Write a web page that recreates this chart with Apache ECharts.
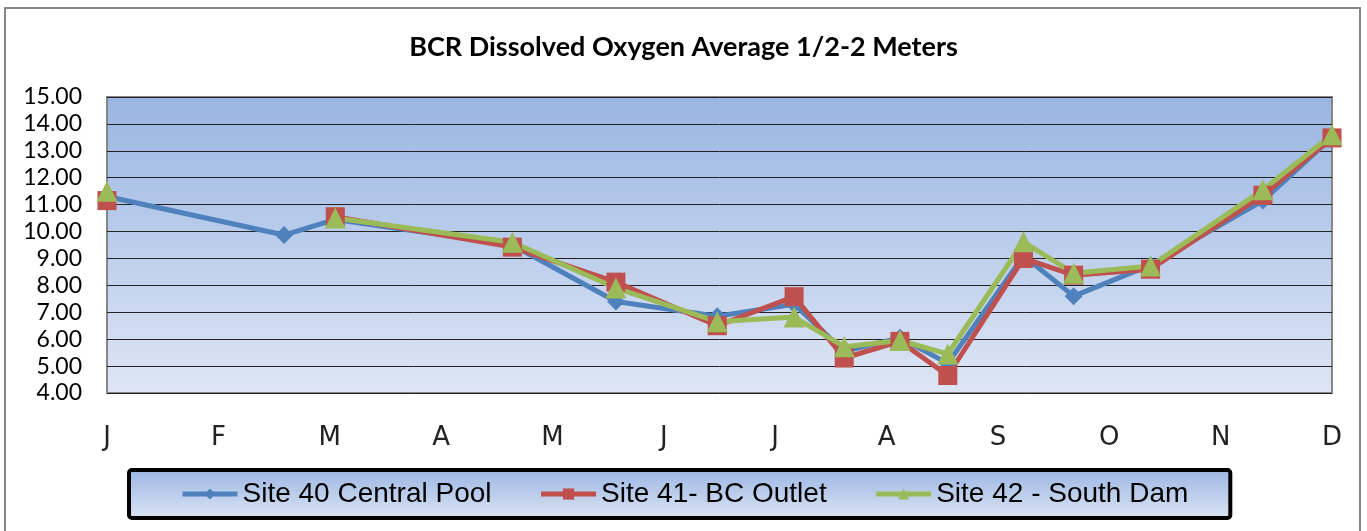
<!DOCTYPE html>
<html>
<head>
<meta charset="utf-8">
<script src="https://cdn.jsdelivr.net/npm/echarts@6/dist/echarts.min.js"></script>
<style>
  html, body { margin: 0; padding: 0; background: #fff; }
  #chart { width: 1367px; height: 531px; }
</style>
</head>
<body>
<div id="chart"></div>
<script>
// month letters shown under the axis, one per month position
var monthLabels = ['J', 'F', 'M', 'A', 'M', 'J', 'J', 'A', 'S', 'O', 'N', 'D'];
// sampling dates as fractional months (0 = Jan, 11 = Dec)
var sampleMonths = [0, 1.59, 2.05, 3.64, 4.57, 5.48, 6.17, 6.62, 7.12, 7.55, 8.23, 8.68, 9.37, 10.38, 11];
var site40 = [11.3, 9.87, 10.45, 9.5, 7.4, 6.85, 7.3, 5.55, 6.05, 5.1, 9.1, 7.6, 8.75, 11.15, 13.5];
var site41 = [11.15, null, 10.55, 9.42, 8.12, 6.5, 7.58, 5.3, 5.92, 4.65, 9.0, 8.38, 8.6, 11.35, 13.48];
var site42 = [11.5, null, 10.5, 9.6, 7.9, 6.65, 6.82, 5.72, 5.95, 5.45, 9.62, 8.45, 8.72, 11.55, 13.6];

function pairs(vals) {
    return vals.map(function (v, i) {
        return [sampleMonths[i], v === null ? '-' : v];
    });
}

var chart = echarts.init(document.getElementById('chart'));
chart.setOption({
    animation: false,
    backgroundColor: '#fff',
    title: {
        text: 'BCR Dissolved Oxygen Average 1/2-2 Meters',
        left: 'center',
        top: 29,
        textStyle: { fontFamily: 'Lato', fontWeight: 'bold', fontSize: 27, color: '#000' }
    },
    graphic: [{
        type: 'rect',
        shape: { x: 5, y: 8, width: 1355, height: 540 },
        style: { fill: 'none', stroke: '#868686', lineWidth: 2 },
        silent: true
    }],
    grid: {
        left: 107, right: 35, top: 97, bottom: 138,
        show: true,
        borderColor: '#868686',
        borderWidth: 2,
        backgroundColor: new echarts.graphic.LinearGradient(0, 0, 0, 1, [
            { offset: 0, color: '#99b5e2' },
            { offset: 1, color: '#dee6f5' }
        ])
    },
    xAxis: {
        type: 'value',
        min: 0, max: 11, interval: 1,
        axisLine: { show: false },
        axisTick: { show: false },
        splitLine: { show: false },
        axisLabel: {
            margin: 32,
            fontFamily: 'DejaVu Sans',
            fontSize: 26,
            color: '#222',
            formatter: function (v) { return monthLabels[v]; }
        }
    },
    yAxis: {
        type: 'value',
        min: 4, max: 15, interval: 1,
        axisLine: { show: false },
        axisTick: { show: false },
        splitLine: { lineStyle: { color: '#222', width: 1 } },
        axisLabel: {
            margin: 25,
            fontFamily: 'Lato',
            fontSize: 23,
            color: '#000',
            formatter: function (v) { return v.toFixed(2); }
        }
    },
    legend: {
        left: 129, top: 470,
        padding: [10, 42, 10, 51],
        itemGap: 47,
        itemWidth: 55,
        itemHeight: 14,
        borderColor: '#000',
        borderWidth: 4,
        borderRadius: 3,
        lineStyle: { width: 5 },
        backgroundColor: new echarts.graphic.LinearGradient(0, 0, 0, 1, [
            { offset: 0, color: '#9ab5e2' },
            { offset: 1, color: '#dde5f4' }
        ]),
        textStyle: { fontFamily: 'Liberation Sans', fontSize: 28, color: '#000' },
        data: ['Site 40 Central Pool', 'Site 41- BC Outlet', 'Site 42 - South Dam']
    },
    series: [
        {
            name: 'Site 40 Central Pool',
            type: 'line',
            data: pairs(site40),
            color: '#4f81bd',
            symbol: 'diamond',
            symbolSize: 18,
            lineStyle: { width: 5 }
        },
        {
            name: 'Site 41- BC Outlet',
            type: 'line',
            data: pairs(site41),
            color: '#c0504d',
            symbol: 'rect',
            symbolSize: 19,
            lineStyle: { width: 5 }
        },
        {
            name: 'Site 42 - South Dam',
            type: 'line',
            data: pairs(site42),
            color: '#9bbb59',
            symbol: 'triangle',
            symbolSize: 21,
            lineStyle: { width: 5 }
        }
    ]
});
</script>
</body>
</html>
